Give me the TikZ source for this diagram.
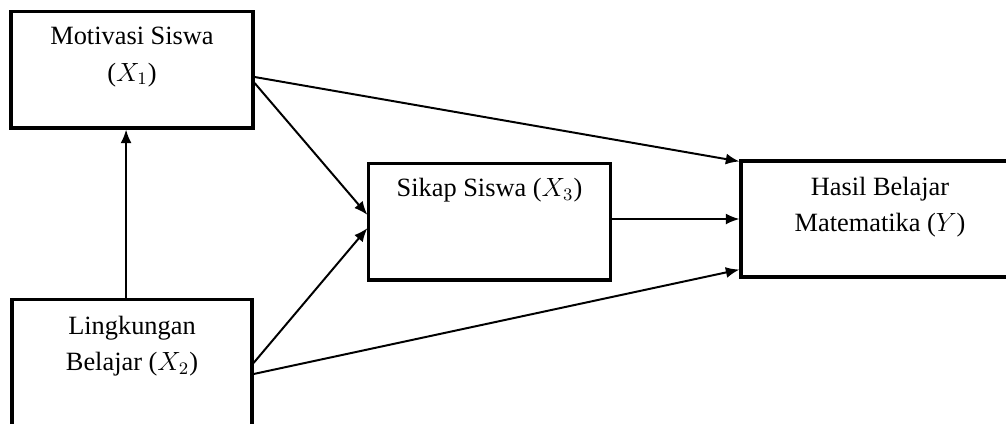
\documentclass[tikz,border=0pt]{standalone}
\usepackage{fontspec}
\setmainfont{Liberation Serif}
\usepackage{tikz}
\usetikzlibrary{arrows.meta}
\tikzstyle{varbox} = [rectangle, draw=black, line width=1.4pt, inner sep=0pt]
\tikzstyle{vartext} = [align=center, inner sep=0pt, font=\fontsize{12}{16.4}\selectfont]
\tikzstyle{arrow} = [line width=0.9pt,->,>={Latex[length=6.2pt,width=5pt]}]

\begin{document}
\begin{tikzpicture}[x=0.455pt, y=-0.455pt]
\path[use as bounding box, clip] (0,0) rectangle (1006,423);

\node (motivasi) [varbox, minimum width=110.1pt, minimum height=53.2pt,
  label={[vartext, below=8pt]north:{Motivasi Siswa\\($X_1$)}}] at (132,69.5) {};
\node (lingkungan) [varbox, minimum width=109.2pt, minimum height=59.2pt,
  label={[vartext, below=8pt]north:{Lingkungan\\Belajar ($X_2$)}}] at (132,365) {};
\node (sikap) [varbox, minimum width=109.7pt, minimum height=53.2pt,
  label={[vartext, below=7.6pt]north:{Sikap Siswa ($X_3$)}}] at (489.5,221.5) {};
\node (hasil) [varbox, minimum width=126.5pt, minimum height=52.8pt,
  label={[vartext, below=8pt]north:{Hasil Belajar\\Matematika ($Y$)}}] at (880,219) {};

\draw [arrow] ([xshift=-2.7pt]lingkungan.north) -- ([xshift=-2.7pt]motivasi.south);
\draw [arrow] ([yshift=-3.4pt]motivasi.east) -- ([yshift=-0.9pt]hasil.north west);
\draw [arrow] ([yshift=-6.1pt]motivasi.east) -- ([yshift=3pt]sikap.west);
\draw [arrow] ([yshift=0.9pt]lingkungan.east) -- ([yshift=-3pt]sikap.west);
\draw [arrow] ([yshift=-4.1pt]lingkungan.east) -- ([yshift=4.1pt]hasil.south west);
\draw [arrow] (sikap.east |- hasil.west) -- (hasil.west);

\end{tikzpicture}
\end{document}
